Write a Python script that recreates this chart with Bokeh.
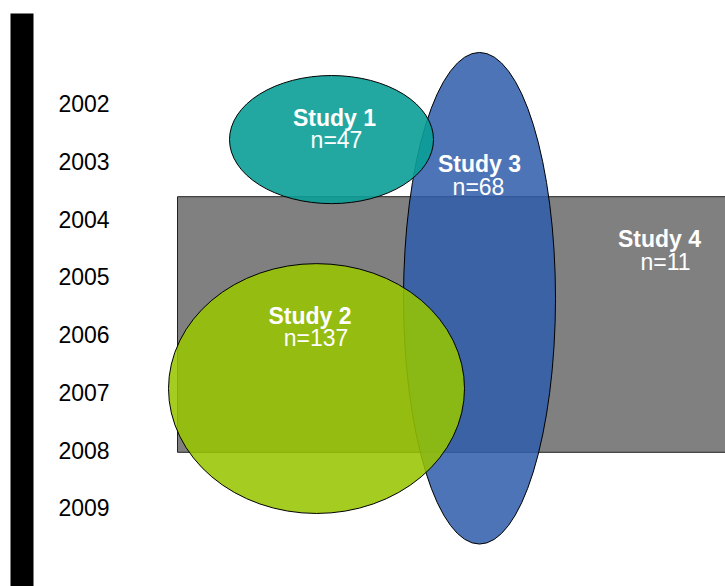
from bokeh.plotting import figure
from bokeh.models import Range1d
from bokeh.core.properties import value
from bokeh.embed import file_html
from bokeh.resources import INLINE

# ---- data ----
years = [2002, 2003, 2004, 2005, 2006, 2007, 2008, 2009]
year_labels = [str(y) for y in years]
studies = ["Study 1", "Study 2", "Study 3", "Study 4"]
n_values = [47, 137, 68, 11]
year_start = [2001.51, 2004.77, 2001.11, 2003.61]
year_end = [2003.73, 2009.10, 2009.63, 2008.04]

# ---- layout helpers (screen px -> data) ----
PX_PER_YEAR = 57.7
Y0_PX = 103.3


def yr(py):
    return 2002 + (py - Y0_PX) / PX_PER_YEAR


W, H = 725, 586
p = figure(width=W, height=H, output_backend="svg", toolbar_location=None,
           x_range=Range1d(0, W), y_range=Range1d(yr(H), yr(0)),
           min_border=0, x_axis_location=None, y_axis_location=None)
p.outline_line_color = None
p.xgrid.visible = False
p.ygrid.visible = False
p.background_fill_color = "white"
p.border_fill_color = "white"

# black timeline bar
p.quad(left=[10], right=[33], top=[yr(13)], bottom=[yr(620)],
       fill_color="black", line_color=None)

# year labels
p.text(x=[58] * len(years), y=years, text=year_labels,
       text_font=value("Liberation Sans"), text_font_size="23px",
       text_color="black", text_align="left", text_baseline="middle")

# Study 4 rectangle
p.quad(left=[177], right=[760], top=[year_end[3]], bottom=[year_start[3]],
       fill_color="#808080", line_color="#222222", line_width=1)

x_center = {"Study 1": 331, "Study 2": 316, "Study 3": 479}
x_width = {"Study 1": 204, "Study 2": 296, "Study 3": 152}
colors = {"Study 1": ("#0A9F97", 0.9), "Study 2": ("#96C400", 0.87),
          "Study 3": ("#2F5DAA", 0.86)}

for name in ["Study 3", "Study 1", "Study 2"]:
    i = studies.index(name)
    c, a = colors[name]
    p.ellipse(x=[x_center[name]], y=[(year_start[i] + year_end[i]) / 2],
              width=[x_width[name]], height=[year_end[i] - year_start[i]],
              fill_color=c, fill_alpha=a, line_color="black", line_width=1)

# labels
title_pos = [(334, 117), (309.5, 315), (479, 163), (659, 238)]
n_pos = [(336, 139.5), (315.5, 337.5), (478, 186), (665, 261.5)]
p.text(x=[t[0] for t in title_pos], y=[yr(t[1]) for t in title_pos], text=studies,
       text_font=value("Liberation Sans"), text_font_size="23px",
       text_font_style="bold", text_color="white",
       text_align="center", text_baseline="middle")
p.text(x=[t[0] for t in n_pos], y=[yr(t[1]) for t in n_pos],
       text=["n=%d" % v for v in n_values],
       text_font=value("Liberation Sans"), text_font_size="23px",
       text_color="white", text_align="center", text_baseline="middle")

open("out.html", "w").write(file_html(p, INLINE))
